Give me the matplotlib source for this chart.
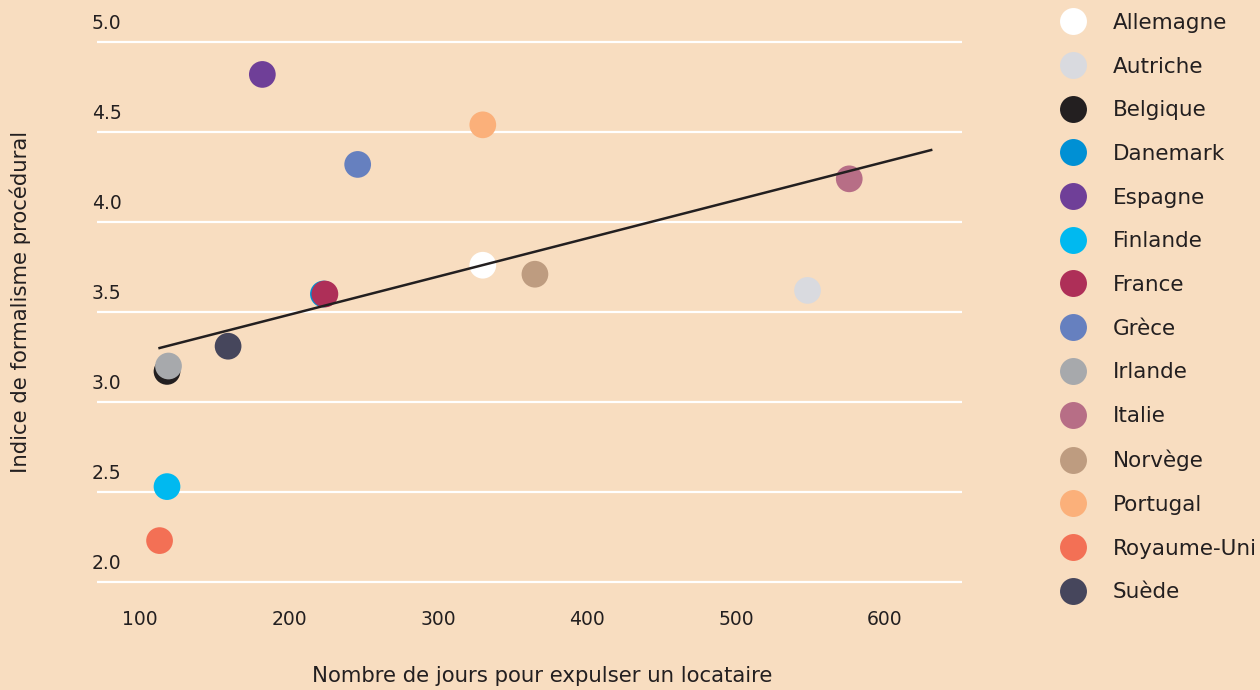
import matplotlib
matplotlib.use("Agg")
import matplotlib.pyplot as plt
from matplotlib.lines import Line2D

countries = ["Allemagne", "Autriche", "Belgique", "Danemark", "Espagne", "Finlande",
             "France", "Grèce", "Irlande", "Italie", "Norvège", "Portugal",
             "Royaume-Uni", "Suède"]
days = [330, 548, 118, 223, 182, 118, 224, 246, 119, 576, 365, 330, 113, 159]
index = [3.76, 3.62, 3.17, 3.60, 4.82, 2.53, 3.60, 4.32, 3.20, 4.24, 3.71, 4.54, 2.23, 3.31]
colors = ["#FFFFFF", "#D9DADF", "#231F20", "#0090D4", "#6F3F98", "#00B9F0",
          "#AE2F58", "#6680BF", "#A7A9AC", "#B76E86", "#BE9C80", "#FBB07A",
          "#F37055", "#46465C"]

trend_x = [113, 631]
trend_y = [3.30, 4.40]

y_ticks = [2.0, 2.5, 3.0, 3.5, 4.0, 4.5, 5.0]
x_ticks = [100, 200, 300, 400, 500, 600]

bg = "#F8DDC0"
ink = "#231F20"
plt.rcParams["font.family"] = ["DejaVu Sans"]

fig = plt.figure(figsize=(12.6, 6.9), dpi=100, facecolor=bg)
ax = fig.add_axes([97 / 1260, 1 - 600 / 690, (962 - 97) / 1260, 590 / 690])
ax.set_facecolor(bg)

for x, y, c in zip(days, index, colors):
    ax.scatter(x, y, s=370, color=c, edgecolors="none", zorder=3)
ax.plot(trend_x, trend_y, color=ink, lw=1.8, zorder=4)

ax.set_xlim(71, 651.7)
ax.set_ylim(1.9, 5.178)
ax.set_xticks(x_ticks)
ax.set_xticklabels([str(v) for v in x_ticks])
ax.set_yticks(y_ticks)
ax.tick_params(axis="x", length=0, pad=7, labelsize=13.5, labelcolor=ink)
ax.tick_params(axis="y", length=0, labelleft=False)
ax.grid(axis="y", color="white", lw=1.6, zorder=1)
ax.set_axisbelow(True)
for s in ax.spines.values():
    s.set_visible(False)

# y labels sit above their gridlines, left-aligned
for v in y_ticks:
    ax.annotate(f"{v:.1f}", xy=(0, v), xycoords=("axes fraction", "data"),
                xytext=(-5, 9), textcoords="offset pixels",
                ha="left", va="bottom", fontsize=13.5, color=ink)

fig.text(542 / 1260, 1 - 676 / 690, "Nombre de jours pour expulser un locataire",
         ha="center", va="center", fontsize=15.3, color=ink)
fig.text(20 / 1260, 1 - 302 / 690, "Indice de formalisme procédural",
         ha="center", va="center", rotation=90, fontsize=15.3, color=ink)

handles = [Line2D([], [], marker="o", ls="none", markersize=19.4,
                  markerfacecolor=c, markeredgecolor="none") for c in colors]
fig.legend(handles, countries, loc="upper left", bbox_to_anchor=(1046 / 1260, 1.0),
           frameon=False, fontsize=15.5, labelspacing=1.1, handletextpad=1.2,
           labelcolor=ink, borderaxespad=0.2, handlelength=1.3)

fig.savefig("out.png", dpi=100, facecolor=bg)
